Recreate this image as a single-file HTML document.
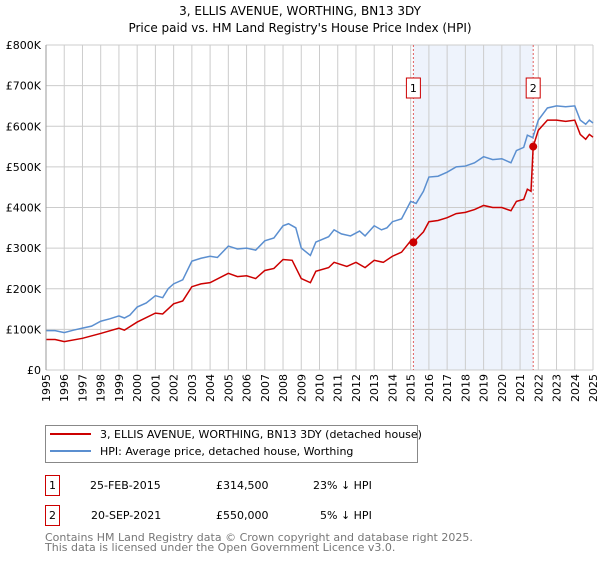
<!DOCTYPE html>
<html><head><meta charset="utf-8"><style>
body{margin:0;background:#fff;font-family:"Liberation Sans","DejaVu Sans",sans-serif;}
svg text{font-family:"DejaVu Sans","Liberation Sans",sans-serif;}
</style></head><body>
<svg width="600" height="560" xmlns="http://www.w3.org/2000/svg">
<text x="300" y="15" font-size="12" text-anchor="middle">3, ELLIS AVENUE, WORTHING, BN13 3DY</text>
<text x="300" y="32" font-size="12" text-anchor="middle">Price paid vs. HM Land Registry's House Price Index (HPI)</text>
<g id="plot"></g>
<g>
<rect x="45.5" y="425.5" width="372" height="37" fill="#fff" stroke="#888"/>
<line x1="50" y1="434" x2="91" y2="434" stroke="#cc0000" stroke-width="2"/>
<text x="100" y="438" font-size="11">3, ELLIS AVENUE, WORTHING, BN13 3DY (detached house)</text>
<line x1="50" y1="451" x2="91" y2="451" stroke="#5b8fd0" stroke-width="2"/>
<text x="100" y="455" font-size="11">HPI: Average price, detached house, Worthing</text>
</g>
<g font-size="11">
<rect x="45.5" y="475.5" width="14" height="20" fill="#fff" stroke="#cc0000"/>
<text x="52.5" y="489" text-anchor="middle">1</text>
<text x="90" y="489">25-FEB-2015</text><text x="216" y="489">£314,500</text><text x="313" y="489">23% ↓ HPI</text>
<rect x="45.5" y="505.5" width="14" height="20" fill="#fff" stroke="#cc0000"/>
<text x="52.5" y="519" text-anchor="middle">2</text>
<text x="91" y="519">20-SEP-2021</text><text x="216" y="519">£550,000</text><text x="320" y="519">5% ↓ HPI</text>
</g>
<text x="45" y="541" font-size="11" fill="#777">Contains HM Land Registry data © Crown copyright and database right 2025.</text>
<text x="45" y="551" font-size="11" fill="#777">This data is licensed under the Open Government Licence v3.0.</text>
</svg>
<script>
const yTicks=[0,100,200,300,400,500,600,700,800];
const yLabels=["£0","£100K","£200K","£300K","£400K","£500K","£600K","£700K","£800K"];
const years=[1995,1996,1997,1998,1999,2000,2001,2002,2003,2004,2005,2006,2007,2008,2009,2010,2011,2012,2013,2014,2015,2016,2017,2018,2019,2020,2021,2022,2023,2024,2025];
const hpiT=[1995,1995.5,1996,1996.5,1997,1997.5,1998,1998.5,1999,1999.3,1999.6,2000,2000.5,2001,2001.4,2001.7,2002,2002.5,2003,2003.5,2004,2004.4,2005,2005.5,2006,2006.5,2007,2007.5,2008,2008.3,2008.7,2009,2009.5,2009.8,2010.5,2010.8,2011.2,2011.7,2012.2,2012.5,2013,2013.4,2013.7,2014,2014.5,2015,2015.3,2015.7,2016,2016.5,2017,2017.5,2018,2018.5,2019,2019.5,2020,2020.5,2020.8,2021.2,2021.4,2021.7,2022,2022.5,2023,2023.5,2024,2024.3,2024.6,2024.8,2025];
const hpiV=[97,97,92,98,103,108,120,126,133,128,135,155,165,183,178,200,212,222,268,275,280,277,305,298,300,295,318,325,355,360,350,300,282,315,328,345,335,330,342,330,355,345,350,365,372,415,410,440,475,477,487,500,502,510,525,518,520,510,540,548,578,572,615,645,650,648,650,615,605,615,608];
const priceT=[1995,1995.5,1996,1997,1998,1999,1999.3,2000,2001,2001.4,2002,2002.5,2003,2003.5,2004,2005,2005.5,2006,2006.5,2007,2007.5,2008,2008.5,2009,2009.5,2009.8,2010.5,2010.8,2011.5,2012,2012.5,2013,2013.5,2014,2014.5,2015,2015.15,2015.7,2016,2016.5,2017,2017.5,2018,2018.5,2019,2019.5,2020,2020.5,2020.8,2021.2,2021.4,2021.6,2021.72,2022,2022.5,2023,2023.5,2024,2024.3,2024.6,2024.8,2025];
const priceV=[75,75,70,78,90,103,98,118,140,138,163,170,205,212,215,238,230,232,225,245,250,272,270,225,215,243,252,265,255,265,252,270,265,280,290,318,314.5,340,365,368,375,385,388,395,405,400,400,392,415,420,445,440,550,590,615,615,612,615,580,568,580,573];
const saleT=[2015.15,2021.72];
const saleV=[314.5,550];
const saleLabels=["1","2"];
const X0=46,X1=593,Y0=370,Y1=45;
const x=t=>X0+(t-1995)/(2025-1995)*(X1-X0);
const y=v=>Y0-v/800*(Y0-Y1);
const NS="http://www.w3.org/2000/svg";
const g=document.getElementById('plot');
function mk(tag,a){const e=document.createElementNS(NS,tag);for(const k in a)e.setAttribute(k,a[k]);g.appendChild(e);return e;}
let sh=mk('rect',{x:x(saleT[0]),y:Y1,width:x(saleT[1])-x(saleT[0]),height:Y0-Y1,fill:'#eef3fc'});


yTicks.forEach((v,i)=>{
 let l=mk('line',{x1:X0,x2:X1,y1:y(v),y2:y(v),stroke:'#ccc'});
 
 
 let t=mk('text',{x:X0-5,y:y(v)+4,'font-size':11,'text-anchor':'end'});t.textContent=yLabels[i];
 
 
});
years.forEach(yr=>{
 let l=mk('line',{x1:x(yr),x2:x(yr),y1:Y1,y2:Y0,stroke:'#ccc'});
 
 
 let xx=x(yr)+4,yy=Y0+4;
 let t=mk('text',{x:xx,y:yy,'font-size':11,'text-anchor':'end',transform:'rotate(-90 '+xx+' '+yy+')'});t.textContent=yr;
 
 
});
saleT.forEach((t,i)=>{
 let l=mk('line',{x1:x(t),x2:x(t),y1:Y1,y2:Y0,stroke:'#e06060','stroke-dasharray':'2,2'});
 
 
 let r=mk('rect',{x:x(t)-7,y:78,width:14,height:20,fill:'#fff',stroke:'#cc0000'});
 
 
 let tx=mk('text',{x:x(t),y:92,'font-size':11,'text-anchor':'middle'});tx.textContent=saleLabels[i];
 
 
});
let hp=mk('polyline',{points:hpiT.map((t,i)=>x(t)+','+y(hpiV[i])).join(' '),fill:'none',stroke:'#5b8fd0','stroke-width':1.5});


let pp=mk('polyline',{points:priceT.map((t,i)=>x(t)+','+y(priceV[i])).join(' '),fill:'none',stroke:'#cc0000','stroke-width':1.5});


saleT.forEach((t,i)=>{
 let c=mk('circle',{cx:x(t),cy:y(saleV[i]),r:4,fill:'#cc0000'});
 
 
});
let ax=mk('line',{x1:X0,x2:X0,y1:Y1,y2:Y0,stroke:'#999'});


</script>
</body></html>
